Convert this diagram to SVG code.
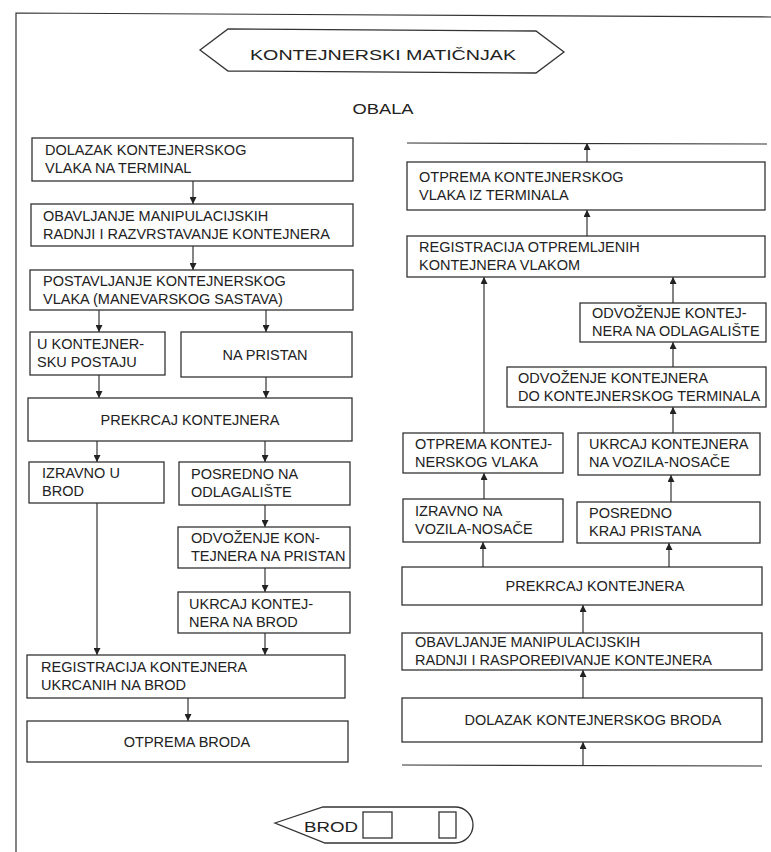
<svg xmlns="http://www.w3.org/2000/svg" width="771" height="852" viewBox="0 0 771 852">
<defs>
<marker id="ah" viewBox="0 0 10 10" refX="10" refY="5" markerWidth="7" markerHeight="7" markerUnits="userSpaceOnUse" orient="auto">
<path d="M0,0 L10,5 L0,10 Z" fill="#222"/>
</marker>
<style>
.box{fill:#fff;stroke:#333;stroke-width:1.3}
.t{font-family:"Liberation Sans",Arial,sans-serif;font-size:14.5px;fill:#222}
.c{text-anchor:middle}
.ln{stroke:#333;stroke-width:1.2;fill:none}
.ar{stroke:#333;stroke-width:1.2;fill:none;marker-end:url(#ah)}
</style>
</defs>
<rect width="771" height="852" fill="#fff"/>
<g id="frame">
<path class="ln" d="M16,852 L16,13 L771,17" stroke-width="1.5"/>
</g>
<g id="title">
<path class="box" d="M200,50 L228,29 L536,31 L564,52 L536,73 L228,71 Z" stroke-width="1.5"/>
<text class="t c" x="383" y="60" font-size="20" textLength="266" lengthAdjust="spacingAndGlyphs">KONTEJNERSKI MATIČNJAK</text>
</g>
<g id="obala">
<text class="t c" x="383" y="114" font-size="18" textLength="61" lengthAdjust="spacingAndGlyphs">OBALA</text>
</g>

<g id="connectors">
<line class="ar" x1="193" y1="181" x2="193" y2="204"/>
<line class="ar" x1="193" y1="246" x2="193" y2="270"/>
<line class="ar" x1="99" y1="310" x2="99" y2="332"/>
<line class="ar" x1="266" y1="310" x2="266" y2="332"/>
<line class="ar" x1="99" y1="375" x2="99" y2="398"/>
<line class="ar" x1="266" y1="377" x2="266" y2="398"/>
<line class="ar" x1="97" y1="441" x2="97" y2="462"/>
<line class="ar" x1="265" y1="441" x2="265" y2="462"/>
<line class="ar" x1="265" y1="505" x2="265" y2="527"/>
<line class="ar" x1="265" y1="568" x2="265" y2="592"/>
<line class="ar" x1="97" y1="503" x2="97" y2="655"/>
<line class="ar" x1="265" y1="633" x2="265" y2="655"/>
<line class="ar" x1="188" y1="698" x2="188" y2="721"/>

<line class="ln" x1="407" y1="143" x2="767" y2="144"/>
<line class="ln" x1="402" y1="765" x2="762" y2="766"/>
<line class="ar" x1="587" y1="162" x2="587" y2="143"/>
<line class="ar" x1="587" y1="236" x2="587" y2="210"/>
<line class="ar" x1="484" y1="433" x2="484" y2="277"/>
<line class="ar" x1="673" y1="303" x2="673" y2="277"/>
<line class="ar" x1="673" y1="367" x2="673" y2="342"/>
<line class="ar" x1="673" y1="433" x2="673" y2="407"/>
<line class="ar" x1="484" y1="499" x2="484" y2="473"/>
<line class="ar" x1="671" y1="502" x2="671" y2="475"/>
<line class="ar" x1="483" y1="567" x2="483" y2="542"/>
<line class="ar" x1="669" y1="567" x2="669" y2="543"/>
<line class="ar" x1="583" y1="633" x2="583" y2="605"/>
<line class="ar" x1="583" y1="698" x2="583" y2="670"/>
<line class="ar" x1="583" y1="765" x2="583" y2="742"/>
</g>

<g id="L1"><rect class="box" x="32" y="138" width="321" height="43"/>
<text class="t" x="45" y="155">DOLAZAK KONTEJNERSKOG</text><text class="t" x="45" y="173">VLAKA NA TERMINAL</text></g>
<g id="L2"><rect class="box" x="31" y="204" width="322" height="42"/>
<text class="t" x="43" y="221">OBAVLJANJE MANIPULACIJSKIH</text><text class="t" x="43" y="239">RADNJI I RAZVRSTAVANJE KONTEJNERA</text></g>
<g id="L3"><rect class="box" x="30" y="270" width="323" height="40"/>
<text class="t" x="43" y="286">POSTAVLJANJE KONTEJNERSKOG</text><text class="t" x="43" y="304">VLAKA (MANEVARSKOG SASTAVA)</text></g>
<g id="L4a"><rect class="box" x="30" y="332" width="135" height="43"/>
<text class="t" x="37" y="349">U KONTEJNER-</text><text class="t" x="37" y="367">SKU POSTAJU</text></g>
<g id="L4b"><rect class="box" x="181" y="332" width="171" height="45"/>
<text class="t c" x="265" y="360">NA PRISTAN</text></g>
<g id="L5"><rect class="box" x="28" y="398" width="324" height="43"/>
<text class="t c" x="190" y="425">PREKRCAJ KONTEJNERA</text></g>
<g id="L6a"><rect class="box" x="29" y="462" width="135" height="41"/>
<text class="t" x="42" y="478">IZRAVNO U</text><text class="t" x="42" y="496">BROD</text></g>
<g id="L6b"><rect class="box" x="179" y="462" width="171" height="43"/>
<text class="t" x="191" y="479">POSREDNO NA</text><text class="t" x="191" y="497">ODLAGALIŠTE</text></g>
<g id="L7"><rect class="box" x="178" y="527" width="172" height="41"/>
<text class="t" x="191" y="543">ODVOŽENJE KON-</text><text class="t" x="191" y="561">TEJNERA NA PRISTAN</text></g>
<g id="L8"><rect class="box" x="178" y="592" width="172" height="41"/>
<text class="t" x="189" y="609">UKRCAJ KONTEJ-</text><text class="t" x="189" y="627">NERA NA BROD</text></g>
<g id="L9"><rect class="box" x="27" y="655" width="318" height="43"/>
<text class="t" x="41" y="672">REGISTRACIJA KONTEJNERA</text><text class="t" x="41" y="690">UKRCANIH NA BROD</text></g>
<g id="L10"><rect class="box" x="27" y="721" width="321" height="41"/>
<text class="t c" x="187" y="747">OTPREMA BRODA</text></g>

<g id="R1"><rect class="box" x="407" y="162" width="358" height="48"/>
<text class="t" x="419" y="182">OTPREMA KONTEJNERSKOG</text><text class="t" x="419" y="200">VLAKA IZ TERMINALA</text></g>
<g id="R2"><rect class="box" x="407" y="236" width="358" height="41"/>
<text class="t" x="419" y="252">REGISTRACIJA OTPREMLJENIH</text><text class="t" x="419" y="270">KONTEJNERA VLAKOM</text></g>
<g id="R3"><rect class="box" x="580" y="303" width="186" height="39"/>
<text class="t" x="592" y="318">ODVOŽENJE KONTEJ-</text><text class="t" x="592" y="336">NERA NA ODLAGALIŠTE</text></g>
<g id="R4"><rect class="box" x="507" y="367" width="259" height="40"/>
<text class="t" x="518" y="383">ODVOŽENJE KONTEJNERA</text><text class="t" x="518" y="401">DO KONTEJNERSKOG TERMINALA</text></g>
<g id="R5a"><rect class="box" x="403" y="433" width="160" height="40"/>
<text class="t" x="415" y="449">OTPREMA KONTEJ-</text><text class="t" x="415" y="467">NERSKOG VLAKA</text></g>
<g id="R5b"><rect class="box" x="578" y="433" width="182" height="42"/>
<text class="t" x="589" y="449">UKRCAJ KONTEJNERA</text><text class="t" x="589" y="467">NA VOZILA-NOSAČE</text></g>
<g id="R6a"><rect class="box" x="403" y="499" width="160" height="43"/>
<text class="t" x="415" y="516">IZRAVNO NA</text><text class="t" x="415" y="534">VOZILA-NOSAČE</text></g>
<g id="R6b"><rect class="box" x="577" y="502" width="183" height="41"/>
<text class="t" x="589" y="518">POSREDNO</text><text class="t" x="589" y="536">KRAJ PRISTANA</text></g>
<g id="R7"><rect class="box" x="402" y="567" width="360" height="38"/>
<text class="t c" x="595" y="591">PREKRCAJ KONTEJNERA</text></g>
<g id="R8"><rect class="box" x="402" y="633" width="360" height="37"/>
<text class="t" x="415" y="647">OBAVLJANJE MANIPULACIJSKIH</text><text class="t" x="415" y="665">RADNJI I RASPOREĐIVANJE KONTEJNERA</text></g>
<g id="R9"><rect class="box" x="402" y="698" width="360" height="44"/>
<text class="t c" x="593" y="725">DOLAZAK KONTEJNERSKOG BRODA</text></g>

<g id="brod">
<path class="box" d="M275,823 L323,807 L455,807 A18,18 0 0 1 455,843 L325,843 Z" stroke-width="1.5"/>
<text class="t" x="304" y="832" font-size="20" textLength="54" lengthAdjust="spacingAndGlyphs">BROD</text>
<rect class="box" x="363" y="812" width="29" height="26"/>
<rect class="box" x="439" y="812" width="17" height="26"/>
</g>
</svg>
